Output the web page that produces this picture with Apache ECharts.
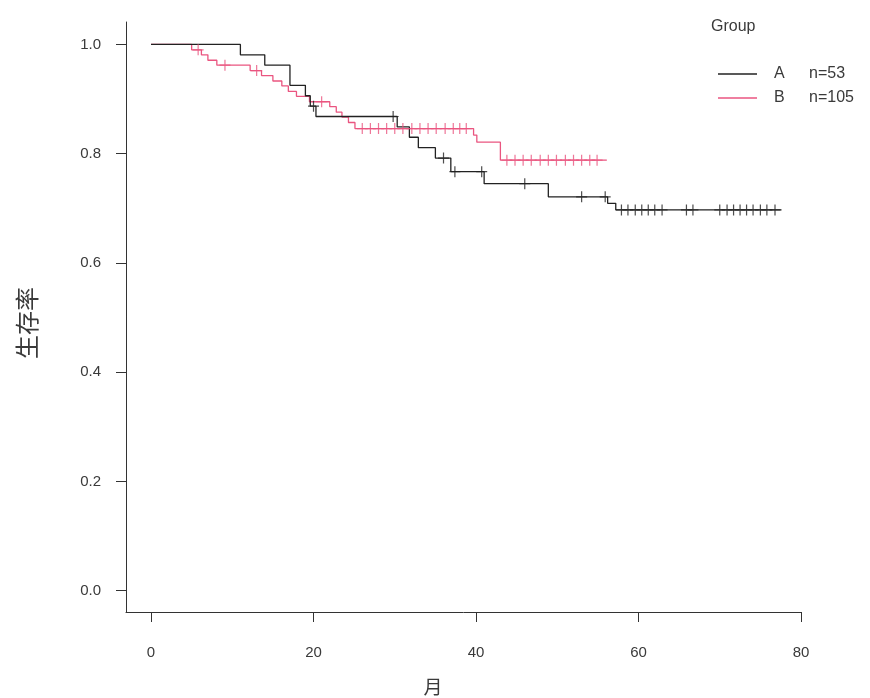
<!DOCTYPE html>
<html><head><meta charset="utf-8">
<script src="https://cdn.jsdelivr.net/npm/echarts@6/dist/echarts.min.js"></script>
<style>html,body{margin:0;padding:0;background:#fff}#c{width:870px;height:698px}</style>
</head><body><div id="c"></div>
<script>
// ---- data ----
const groups = ['A', 'B'];
const groupN = [53, 105];
const legendTitle = 'Group';
const xName = '月';
const yName = '生存率';
const xTicks = [0, 20, 40, 60, 80];
const yTicks = [0, 0.2, 0.4, 0.6, 0.8, 1.0];

// Group A step curve (time, survival)
const timesA = [0, 11.0, 14.0, 17.1, 19.0, 19.6, 20.3, 30.3, 31.8, 32.9, 35.0, 36.9, 41.0, 48.9, 56.2, 57.2, 77.6];
const survA  = [1, 0.981, 0.962, 0.925, 0.906, 0.887, 0.868, 0.849, 0.830, 0.811, 0.792, 0.767, 0.745, 0.721, 0.709, 0.697, 0.697];
// Group A censor marks
const censTimesA = [20.0, 29.8, 36.0, 37.4, 40.7, 46.0, 53.0, 55.9, 57.9, 58.7, 59.6, 60.4, 61.2, 62.0, 62.9, 65.9, 66.7, 70.0, 70.9, 71.7, 72.5, 73.3, 74.1, 75.0, 75.8, 76.8];
const censSurvA  = [0.887, 0.868, 0.792, 0.767, 0.767, 0.745, 0.721, 0.721, 0.697, 0.697, 0.697, 0.697, 0.697, 0.697, 0.697, 0.697, 0.697, 0.697, 0.697, 0.697, 0.697, 0.697, 0.697, 0.697, 0.697, 0.697];

// Group B step curve
const timesB = [0, 5.0, 6.2, 7.0, 8.1, 12.2, 13.6, 15.0, 16.1, 16.9, 17.9, 19.5, 22.0, 22.8, 23.5, 24.3, 25.1, 39.7, 40.1, 43.0, 56.1];
const survB  = [1, 0.990, 0.981, 0.971, 0.962, 0.952, 0.943, 0.933, 0.924, 0.914, 0.905, 0.895, 0.886, 0.876, 0.867, 0.857, 0.846, 0.834, 0.821, 0.788, 0.788];
// Group B censor marks
const censTimesB = [5.8, 9.1, 13.0, 21.0, 26.0, 27.0, 28.0, 29.0, 30.0, 31.0, 32.1, 33.1, 34.1, 35.1, 36.2, 37.2, 38.0, 38.8, 43.8, 44.8, 45.8, 46.8, 47.9, 48.9, 49.9, 51.0, 52.0, 53.0, 54.0, 54.9];
const censSurvB  = [0.990, 0.962, 0.952, 0.895, 0.846, 0.846, 0.846, 0.846, 0.846, 0.846, 0.846, 0.846, 0.846, 0.846, 0.846, 0.846, 0.846, 0.846, 0.788, 0.788, 0.788, 0.788, 0.788, 0.788, 0.788, 0.788, 0.788, 0.788, 0.788, 0.788];

// ---- styling ----
const colA = '#222222', colB = '#ea5580';
const axisCol = '#333333', textCol = '#3a3a3a';
const FONT = '"Liberation Sans", Arial, sans-serif';
const CJK = '"Noto Sans CJK SC", sans-serif';
const plus = 'path://M4.45,0H5.55V10H4.45ZM0,4.45H10V5.55H0Z';

const zip = (a, b) => a.map((t, i) => [t, b[i]]);

const chart = echarts.init(document.getElementById('c'), null, {renderer: 'canvas'});
chart.setOption({
  animation: false,
  backgroundColor: '#fff',
  grid: {left: 126, right: 69, top: 22, bottom: 86, containLabel: false},
  xAxis: {
    type: 'value', min: -3.08, max: 80,
    splitLine: {show: false},
    axisLine: {show: true, onZero: false, lineStyle: {color: axisCol, width: 1}},
    axisTick: {show: true, length: 10, customValues: xTicks, lineStyle: {color: axisCol}},
    axisLabel: {customValues: xTicks, color: textCol, fontSize: 15, fontFamily: FONT, margin: 33}
  },
  yAxis: {
    type: 'value', min: -0.039, max: 1.041,
    splitLine: {show: false},
    axisLine: {show: true, onZero: false, lineStyle: {color: axisCol, width: 1}},
    axisTick: {show: true, length: 10, customValues: yTicks, lineStyle: {color: axisCol}},
    axisLabel: {customValues: yTicks, color: textCol, fontSize: 15, fontFamily: FONT, margin: 25,
      formatter: v => v.toFixed(1)}
  },
  legend: {
    data: groups,
    orient: 'vertical', left: 718, top: 66, padding: 0,
    icon: 'rect',
    itemWidth: 39, itemHeight: 1.3, itemGap: 8,
    textStyle: {color: textCol, fontSize: 16, fontFamily: FONT,
      rich: {g: {width: 35, padding: [0, 0, 0, 12], fontSize: 16, fontFamily: FONT, color: textCol},
             n: {fontSize: 16, fontFamily: FONT, color: textCol}}},
    formatter: name => `{g|${name}}{n|n=${groupN[groups.indexOf(name)]}}`
  },
  graphic: [
    {type: 'text', left: 711, top: 19, style: {text: legendTitle, fontSize: 16, fontFamily: FONT, fill: textCol}},
    {type: 'text', x: 433, y: 687, style: {text: xName, fontSize: 19, fontFamily: CJK, fill: textCol, align: 'center', verticalAlign: 'middle'}},
    {type: 'text', x: 27, y: 323, rotation: Math.PI / 2, style: {text: yName, fontSize: 24, fontFamily: CJK, fill: textCol, align: 'center', verticalAlign: 'middle'}}
  ],
  series: [
    {name: groups[0], type: 'line', step: 'end', symbol: 'none', data: zip(timesA, survA),
     lineStyle: {color: colA, width: 1.3}, itemStyle: {color: colA}, z: 3},
    {name: groups[1], type: 'line', step: 'end', symbol: 'none', data: zip(timesB, survB),
     lineStyle: {color: colB, width: 1.3}, itemStyle: {color: colB}, z: 2},
    {name: 'A censored', type: 'scatter', symbol: plus, symbolSize: 11, data: zip(censTimesA, censSurvA),
     itemStyle: {color: colA}, z: 4, silent: true},
    {name: 'B censored', type: 'scatter', symbol: plus, symbolSize: 11, data: zip(censTimesB, censSurvB),
     itemStyle: {color: colB}, z: 3, silent: true}
  ]
});
</script></body></html>
